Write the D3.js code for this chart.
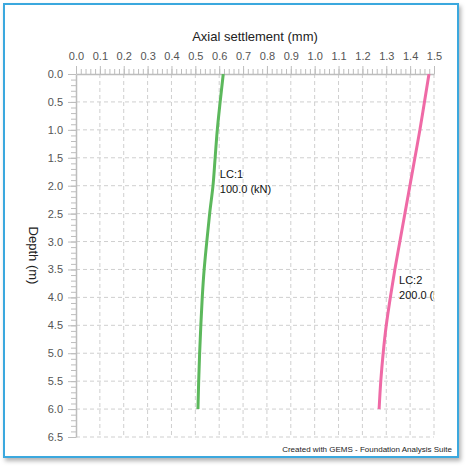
<!DOCTYPE html>
<html>
<head>
<meta charset="utf-8">
<script src="https://cdn.jsdelivr.net/npm/d3@7"></script>
<style>
  html, body { margin: 0; padding: 0; background: #fff; }
  svg { display: block; font-family: "Liberation Sans", Arial, sans-serif; }
</style>
</head>
<body>
<div id="chart"></div>
<script>
const depths = [0, 0.5, 1.0, 1.5, 2.0, 2.5, 3.0, 3.5, 4.0, 4.5, 5.0, 5.5, 6.0];
const lc1Settlement = [0.617, 0.604, 0.592, 0.583, 0.574, 0.560, 0.548, 0.537, 0.529, 0.523, 0.518, 0.514, 0.511];
const lc2Settlement = [1.479, 1.460, 1.441, 1.420, 1.399, 1.378, 1.357, 1.336, 1.317, 1.300, 1.287, 1.277, 1.270];
const seriesNames = ['LC:1', 'LC:2'];
const seriesLoads = ['100.0 (kN)', '200.0 (kN)'];
const labelDepths = [1.8, 3.7];
const xTicks = d3.range(0, 16).map(i => i / 10);
const yTicks = d3.range(0, 14).map(i => i / 2);

function drawChart() {
  d3.select('#chart').selectAll('*').remove();

  const W = 468, H = 468;
  const margin = { top: 74, right: 34, bottom: 31, left: 76 };
  const width = W - margin.left - margin.right;
  const height = H - margin.top - margin.bottom;

  const svg = d3.select('#chart')
    .append('svg')
    .attr('width', W)
    .attr('height', H);

  const defs = svg.append('defs');
  const shadow = defs.append('filter')
    .attr('id', 'shadow')
    .attr('x', '-5%').attr('y', '-5%')
    .attr('width', '115%').attr('height', '115%');
  shadow.append('feDropShadow')
    .attr('dx', 2).attr('dy', 3)
    .attr('stdDeviation', 2)
    .attr('flood-color', '#000')
    .attr('flood-opacity', 0.3);

  defs.append('clipPath')
    .attr('id', 'plot-clip')
    .append('rect')
    .attr('width', width)
    .attr('height', height);

  // frame
  svg.append('rect')
    .attr('x', 4).attr('y', 4)
    .attr('width', 454).attr('height', 453)
    .attr('fill', '#fff')
    .attr('stroke', '#3aa8de')
    .attr('stroke-width', 2)
    .attr('filter', 'url(#shadow)');

  const g = svg.append('g')
    .attr('transform', `translate(${margin.left},${margin.top})`);

  const x = d3.scaleLinear().domain([0, 1.5]).range([0, width]);
  const y = d3.scaleLinear().domain([0, 6.5]).range([0, height]);

  // grid
  g.append('g')
    .selectAll('line')
    .data(xTicks.slice(1))
    .enter()
    .append('line')
    .attr('x1', d => x(d)).attr('x2', d => x(d))
    .attr('y1', 0).attr('y2', height)
    .attr('stroke', '#cfcfcf')
    .attr('stroke-width', 1)
    .attr('stroke-dasharray', '4,3');

  g.append('g')
    .selectAll('line')
    .data(yTicks.slice(1))
    .enter()
    .append('line')
    .attr('x1', 0).attr('x2', width)
    .attr('y1', d => y(d)).attr('y2', d => y(d))
    .attr('stroke', '#cfcfcf')
    .attr('stroke-width', 1)
    .attr('stroke-dasharray', '4,3');

  // minor ticks
  g.append('g')
    .call(d3.axisTop(x).tickValues(d3.range(0, 76).map(i => i / 50)).tickSize(5).tickFormat(''))
    .call(a => a.select('.domain').remove())
    .selectAll('line').attr('stroke', '#bdbdbd');

  g.append('g')
    .call(d3.axisLeft(y).tickValues(d3.range(0, 66).map(i => i / 10)).tickSize(5).tickFormat(''))
    .call(a => a.select('.domain').remove())
    .selectAll('line').attr('stroke', '#bdbdbd');

  // X Axis (top)
  const xAxis = g.append('g')
    .call(d3.axisTop(x).tickValues(xTicks).tickSize(8).tickSizeOuter(0).tickPadding(6).tickFormat(d3.format('.1f')));
  xAxis.select('.domain').attr('stroke', '#bdbdbd').attr('stroke-width', 1.5);
  xAxis.selectAll('line').attr('stroke', '#bdbdbd');
  xAxis.selectAll('text').attr('fill', '#555').style('font-size', '11px');

  // Y Axis
  const yAxis = g.append('g')
    .call(d3.axisLeft(y).tickValues(yTicks).tickSize(8).tickSizeOuter(0).tickPadding(5).tickFormat(d3.format('.1f')));
  yAxis.select('.domain').attr('stroke', '#bdbdbd').attr('stroke-width', 1.5);
  yAxis.selectAll('line').attr('stroke', '#bdbdbd');
  yAxis.selectAll('text').attr('fill', '#555').style('font-size', '11px');

  // titles
  svg.append('text')
    .attr('x', margin.left + width / 2)
    .attr('y', 41)
    .attr('text-anchor', 'middle')
    .attr('fill', '#222')
    .style('font-size', '13px')
    .text('Axial settlement (mm)');

  svg.append('text')
    .attr('transform', `translate(29,${margin.top + height / 2}) rotate(90)`)
    .attr('text-anchor', 'middle')
    .attr('fill', '#222')
    .style('font-size', '13px')
    .text('Depth (m)');

  svg.append('text')
    .attr('x', 452)
    .attr('y', 452)
    .attr('text-anchor', 'end')
    .attr('fill', '#222')
    .style('font-size', '8px')
    .text('Created with GEMS - Foundation Analysis Suite');

  // series
  const series = [
    { values: lc1Settlement, color: '#5cb85c' },
    { values: lc2Settlement, color: '#ef6aa6' }
  ];

  const line = d3.line()
    .x(d => x(d[1]))
    .y(d => y(d[0]))
    .curve(d3.curveMonotoneY);

  const plot = g.append('g').attr('clip-path', 'url(#plot-clip)');

  series.forEach((s, i) => {
    const pts = depths.map((d, j) => [d, s.values[j]]);
    plot.append('path')
      .datum(pts)
      .attr('fill', 'none')
      .attr('stroke', s.color)
      .attr('stroke-width', 3)
      .attr('d', line);

    const ld = labelDepths[i];
    const lx = d3.scaleLinear().domain(depths).range(s.values)(ld);
    const label = plot.append('text')
      .attr('x', x(lx) + 6)
      .attr('y', y(ld) + 3)
      .attr('fill', '#111')
      .style('font-size', '11px');
    label.append('tspan').attr('x', x(lx) + 6).text(seriesNames[i]);
    label.append('tspan').attr('x', x(lx) + 6).attr('dy', 15).text(seriesLoads[i]);
  });
}

drawChart();
</script>
</body>
</html>
